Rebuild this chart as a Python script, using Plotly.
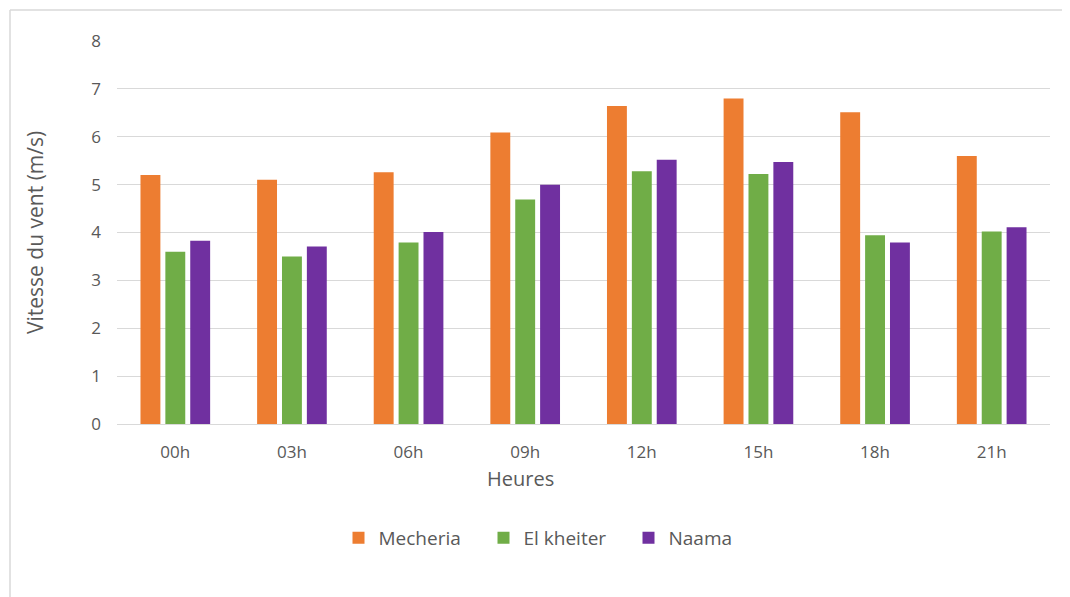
import plotly.graph_objects as go

categories = ["00h", "03h", "06h", "09h", "12h", "15h", "18h", "21h"]
mecheria = [5.2, 5.1, 5.26, 6.09, 6.64, 6.8, 6.51, 5.6]
el_kheiter = [3.6, 3.5, 3.79, 4.69, 5.28, 5.22, 3.94, 4.02]
naama = [3.83, 3.71, 4.01, 5.0, 5.52, 5.47, 3.79, 4.11]
y_ticks = [0, 1, 2, 3, 4, 5, 6, 7, 8]

FONT = "Open Sans"
TXT = "#595959"

# page is offset by the 8px body margin
OFF = 8
W, H = 1070 - OFF, 597 - OFF

fig = go.Figure()
for name, vals, col in [("Mecheria", mecheria, "#ED7D31"),
                        ("El kheiter", el_kheiter, "#70AD47"),
                        ("Naama", naama, "#7030A0")]:
    fig.add_trace(go.Bar(x=categories, y=vals, name=name, marker_color=col,
                         marker_line_width=0))

L, R, T, B = 117 - OFF, 20, 41 - OFF, 597 - 424
PW = W - L - R
PH = H - T - B


def px(xp):
    return (xp - OFF - L) / PW


def py(yp):
    return (424 - yp) / PH


fig.update_layout(
    width=W, height=H,
    margin=dict(l=L, r=R, t=T, b=B),
    paper_bgcolor="white", plot_bgcolor="white",
    barmode="group", bargap=0.36, bargroupgap=0.2,
    font=dict(family=FONT, color=TXT, size=17),
    showlegend=True,
    legend=dict(orientation="h", x=px(556), xanchor="center",
                y=py(538), yanchor="middle",
                font=dict(size=19, color=TXT), itemsizing="constant",
                traceorder="normal", entrywidth=100, entrywidthmode="pixels"),
    xaxis=dict(showgrid=False, showline=False, ticks="", tickfont=dict(size=17, color=TXT),
               ticklabelstandoff=16),
    yaxis=dict(range=[0, 8], tickvals=y_ticks, showgrid=True, gridcolor="#D9D9D9",
               gridwidth=1.3, zeroline=True, zerolinecolor="#D9D9D9", zerolinewidth=1.3,
               showline=False, ticks="", tickfont=dict(size=17, color=TXT),
               ticklabelstandoff=15),
    annotations=[
        dict(text="Heures", xref="paper", yref="paper", x=px(520), y=py(478),
             xanchor="center", yanchor="middle", showarrow=False,
             font=dict(size=20, color=TXT, family=FONT)),
        dict(text="Vitesse du vent (m/s)", xref="paper", yref="paper", x=px(35),
             y=py(233), xanchor="center", yanchor="middle", textangle=-90, showarrow=False,
             font=dict(size=21, color=TXT, family=FONT)),
    ],
    shapes=[
        dict(type="line", xref="paper", yref="paper", x0=px(10), x1=px(1075),
             y0=py(10), y1=py(10), line=dict(color="#D9D9D9", width=1.5)),
        dict(type="line", xref="paper", yref="paper", x0=px(10), x1=px(10),
             y0=py(10), y1=py(600), line=dict(color="#D9D9D9", width=1.5)),
    ],
)

fig.write_html("out.html")
